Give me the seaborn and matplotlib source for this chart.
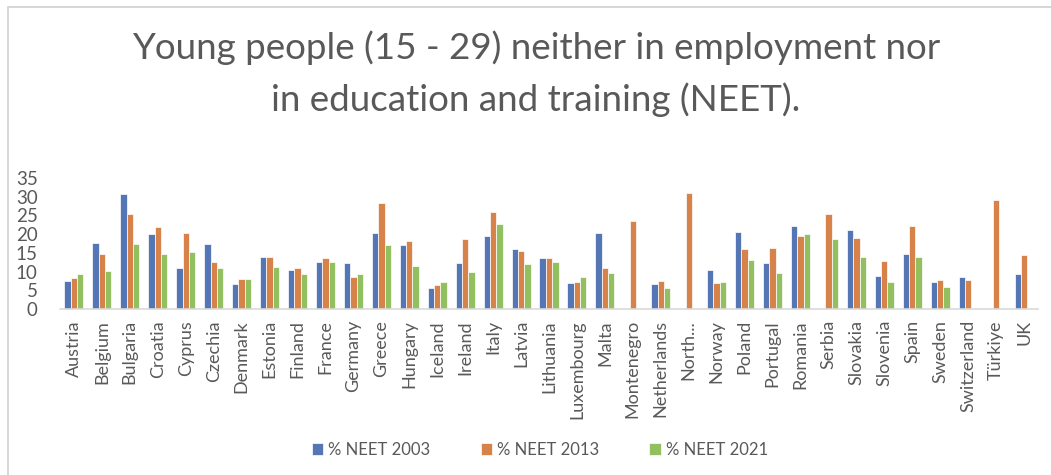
import numpy as np
import pandas as pd
import matplotlib
matplotlib.use("Agg")
import matplotlib.pyplot as plt
import seaborn as sns
from matplotlib.patches import Rectangle

countries = ["Austria", "Belgium", "Bulgaria", "Croatia", "Cyprus", "Czechia", "Denmark",
             "Estonia", "Finland", "France", "Germany", "Greece", "Hungary", "Iceland",
             "Ireland", "Italy", "Latvia", "Lithuania", "Luxembourg", "Malta", "Montenegro",
             "Netherlands", "North...", "Norway", "Poland", "Portugal", "Romania", "Serbia",
             "Slovakia", "Slovenia", "Spain", "Sweden", "Switzerland", "Türkiye", "UK"]

nan = np.nan
neet_2003 = [7.5, 17.7, 30.6, 20.0, 10.9, 17.4, 6.6, 14.0, 10.3, 12.6, 12.3, 20.4, 17.1, 5.5,
             12.3, 19.5, 16.0, 13.5, 6.9, 20.3, nan, 6.6, nan, 10.3, 20.6, 12.3, 22.3, nan,
             21.1, 8.9, 14.6, 7.2, 8.6, nan, 9.4]
neet_2013 = [8.4, 14.8, 25.4, 22.0, 20.3, 12.6, 8.1, 14.0, 10.9, 13.7, 8.6, 28.3, 18.3, 6.4,
             18.6, 25.8, 15.4, 13.5, 7.2, 10.9, 23.4, 7.5, 31.1, 6.9, 16.0, 16.3, 19.5, 25.4,
             18.9, 12.9, 22.3, 7.7, 7.7, 29.1, 14.4]
neet_2021 = [9.3, 10.1, 17.4, 14.8, 15.2, 10.9, 8.1, 11.1, 9.3, 12.6, 9.3, 17.1, 11.5, 7.2,
             9.8, 22.8, 12.0, 12.6, 8.6, 9.5, nan, 5.5, nan, 7.2, 13.2, 9.5, 20.0, 18.6,
             14.0, 7.2, 14.0, 5.8, nan, nan, nan]
series_names = ["% NEET 2003", "% NEET 2013", "% NEET 2021"]
yticks = [0, 5, 10, 15, 20, 25, 30, 35]

rows = []
for name, vals in zip(series_names, [neet_2003, neet_2013, neet_2021]):
    for c, v in zip(countries, vals):
        rows.append({"country": c, "series": name, "value": v})
df = pd.DataFrame(rows).dropna()

sns.set_theme(style="white")
plt.rcParams["font.family"] = ["Lato", "DejaVu Sans"]
txt = "#595959"

fig = plt.figure(figsize=(10.51, 4.75), dpi=100)
ax = fig.add_axes([60 / 1051, 1 - 309 / 475, (1038 - 60) / 1051, (309 - 178) / 475])

palette = {"% NEET 2003": "#4472C4", "% NEET 2013": "#ED7D31", "% NEET 2021": "#92D050"}
sns.barplot(data=df, x="country", y="value", hue="series", order=countries,
            hue_order=series_names, palette=palette, width=0.68, gap=0,
            edgecolor="white", linewidth=0.5, errorbar=None, ax=ax, legend=True)

ax.set_ylim(0, 35)
ax.set_yticks(yticks)
ax.set_yticklabels([str(t) for t in yticks], fontsize=13.5, color=txt)
ax.set_xlim(-0.5, len(countries) - 0.5)
ax.set_xticks(range(len(countries)))
ax.set_xticklabels(countries, rotation=90, fontsize=13, color=txt)
ax.tick_params(axis="x", length=0, pad=8)
ax.tick_params(axis="y", length=0, pad=16)
ax.set_xlabel("")
ax.set_ylabel("")
for s in ["top", "right", "left"]:
    ax.spines[s].set_visible(False)
ax.spines["bottom"].set_color("#D9D9D9")
ax.spines["bottom"].set_linewidth(1.2)

handles, labels = ax.get_legend_handles_labels()
ax.get_legend().remove()
fig.legend(handles, labels, loc="center", bbox_to_anchor=(540 / 1051, 1 - 450 / 475),
           ncol=3, frameon=False, fontsize=12, labelcolor=txt, handlelength=0.7,
           handleheight=0.7, handletextpad=0.3, columnspacing=3.0)

fig.text(536 / 1051, 1 - 48 / 475, "Young people (15 - 29) neither in employment nor",
         ha="center", va="center", fontsize=26.5, color=txt)
fig.text(536 / 1051, 1 - 100 / 475, "in education and training (NEET).",
         ha="center", va="center", fontsize=26.5, color=txt)

fig.patches.append(Rectangle((8 / 1051, -0.05), 1.1, 1 - 7 / 475 + 0.05,
                             transform=fig.transFigure, fill=False,
                             edgecolor="#D0D0D0", linewidth=1.2))

fig.savefig("out.png", dpi=100)
